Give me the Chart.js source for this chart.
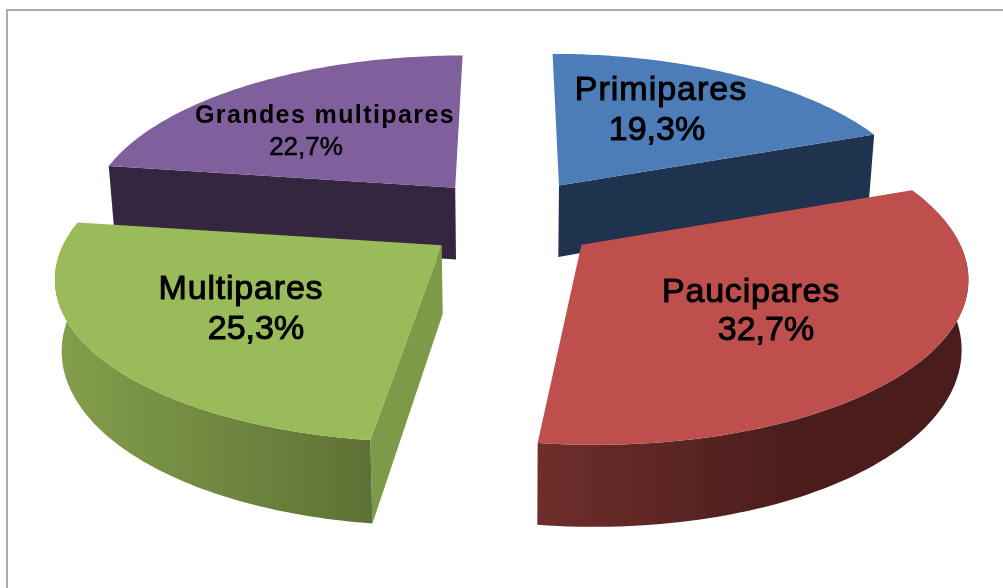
<!DOCTYPE html>
<html>
<head>
<meta charset="utf-8">
<style>
    html, body { margin: 0; padding: 0; background: #fff; overflow: hidden; }
    #frame { position: absolute; left: 6px; top: 9px; width: 1100px; height: 700px; border: 2px solid #ababab; }
    #pie { position: absolute; left: 0; top: 0; }
</style>
<script src="https://cdn.jsdelivr.net/npm/chart.js@4"></script>
</head>
<body>
<div id="frame"></div>
<canvas id="pie" width="1003" height="588"></canvas>
<script>
const categories = ["Primipares", "Paucipares", "Multipares", "Grandes multipares"];
const percentages = [19.3, 32.7, 25.3, 22.7];

const topColours = ["#4c7db8", "#be4f4c", "#9abb59", "#7f5f9c"];
const wallColours = ["#1f334e", "#4a1d1c", "#7c9a47", "#35263f"];
// left and right stop of the outer wall, back slices never show theirs
const rimColours = [null, ["#6e2e2b", "#4a1d1c"], ["#83a04b", "#5e7135"], null];
// back slices first so the front ones paint over them
const drawOrder = [3, 0, 2, 1];

// perspective camera for the pie plane, radius is 1 in plane units
const cam = { cx: 510, cy: 215, a: 370, b: 163, k: 0.171, depth: 66, shrink: 0.985 };
const explode = 0.22;
// small per slice corrections so each wedge lands where the original one does
const tweaks = [
    { dx: 4, dy: -1, sy: 1, deep: 1.12, wall: "end" },
    { dx: 6, dy: 7, sy: 0.966, deep: 1, wall: null },
    { dx: -2, dy: 8, sy: 0.951, deep: 1.02, wall: "start" },
    { dx: -3, dy: -1, sy: 1, deep: 1.12, wall: "start" },
];

function project(px, py, low, t, apexY) {
    const w = 1 + cam.k * py;
    let x = cam.cx + (cam.a * px) / w;
    let y = cam.cy - (cam.b * py) / w;
    if (apexY !== undefined) y = apexY + (y - apexY) * t.sy;
    if (low) {
        x = cam.cx + (x - cam.cx) * cam.shrink;
        y += (cam.depth * t.deep) / w;
    }
    return [x + t.dx, y + t.dy];
}

function tracePoly(ctx, pts) {
    ctx.beginPath();
    pts.forEach((p, i) => (i ? ctx.lineTo(p[0], p[1]) : ctx.moveTo(p[0], p[1])));
    ctx.closePath();
}

const pie3d = {
    id: "pie3d",
    beforeDatasetsDraw(chart) {
        const ctx = chart.ctx;
        const arcs = chart.getDatasetMeta(0).data;
        drawOrder.forEach((i) => {
            const t = tweaks[i];
            const start = arcs[i].startAngle;
            const end = arcs[i].endAngle;
            const mid = (start + end) / 2;
            const ox = explode * Math.cos(mid);
            const oy = -explode * Math.sin(mid);
            const apexY = cam.cy - (cam.b * oy) / (1 + cam.k * oy);
            const rim = [];
            for (let s = 0; s <= 90; s++) {
                const ang = start + ((end - start) * s) / 90;
                rim.push([ox + Math.cos(ang), oy - Math.sin(ang)]);
            }
            const topRim = rim.map((p) => project(p[0], p[1], false, t, apexY));
            const lowRim = rim.map((p) => project(p[0], p[1], true, t, apexY));
            const apexTop = project(ox, oy, false, t, apexY);
            const apexLow = project(ox, oy, true, t, apexY);

            // the one radial wall that faces the viewer
            if (t.wall) {
                const edge = t.wall == "start" ? 0 : 90;
                ctx.fillStyle = wallColours[i];
                tracePoly(ctx, [apexTop, topRim[edge], lowRim[edge], apexLow]);
                ctx.fill();
            }

            // outer wall, shaded left to right
            if (rimColours[i]) {
                const xs = topRim.map((p) => p[0]);
                const grad = ctx.createLinearGradient(Math.min(...xs), 0, Math.max(...xs), 0);
                grad.addColorStop(0, rimColours[i][0]);
                grad.addColorStop(i == 1 ? 0.6 : 1, rimColours[i][1]);
                grad.addColorStop(1, rimColours[i][1]);
                ctx.fillStyle = grad;
                tracePoly(ctx, topRim.concat(lowRim.slice().reverse()));
                ctx.fill();
            }

            // top face
            ctx.fillStyle = arcs[i].options.backgroundColor;
            tracePoly(ctx, [apexTop].concat(topRim));
            ctx.fill();
        });
        return false;
    },
    afterDraw(chart) {
        const ctx = chart.ctx;
        const spots = [
            { x: 661, y: 100, x2: 657, y2: 140, size: 34, size2: 34, gap: 1, weight: "", line: 1 },
            { x: 751, y: 302, x2: 766, y2: 340, size: 34, size2: 34, gap: 0.8, weight: "", line: 1 },
            { x: 241, y: 299, x2: 256, y2: 339, size: 34, size2: 34, gap: 0.8, weight: "", line: 1 },
            { x: 325, y: 123, x2: 306, y2: 155, size: 25, size2: 26, gap: 1.4, weight: "bold ", line: 0.5 },
        ];
        ctx.save();
        ctx.fillStyle = "#000";
        ctx.strokeStyle = "#000";
        ctx.textAlign = "center";
        ctx.textBaseline = "alphabetic";
        spots.forEach((s, i) => {
            ctx.lineWidth = s.line;
            ctx.font = `${s.weight}${s.size}px "Liberation Sans", Arial, sans-serif`;
            ctx.letterSpacing = s.gap + "px";
            ctx.fillText(categories[i], s.x, s.y);
            if (!s.weight) ctx.strokeText(categories[i], s.x, s.y);
            const pct = percentages[i].toFixed(1).replace(".", ",") + "%";
            ctx.font = `${s.size2}px "Liberation Sans", Arial, sans-serif`;
            ctx.letterSpacing = "0px";
            ctx.fillText(pct, s.x2, s.y2);
            ctx.strokeText(pct, s.x2, s.y2);
        });
        ctx.restore();
    },
};

new Chart(document.getElementById("pie"), {
    type: "pie",
    data: {
        labels: categories,
        datasets: [{ data: percentages, backgroundColor: topColours }],
    },
    options: {
        responsive: false,
        animation: false,
        plugins: { legend: { display: false }, tooltip: { enabled: false } },
    },
    plugins: [pie3d],
});
</script>
</body>
</html>
